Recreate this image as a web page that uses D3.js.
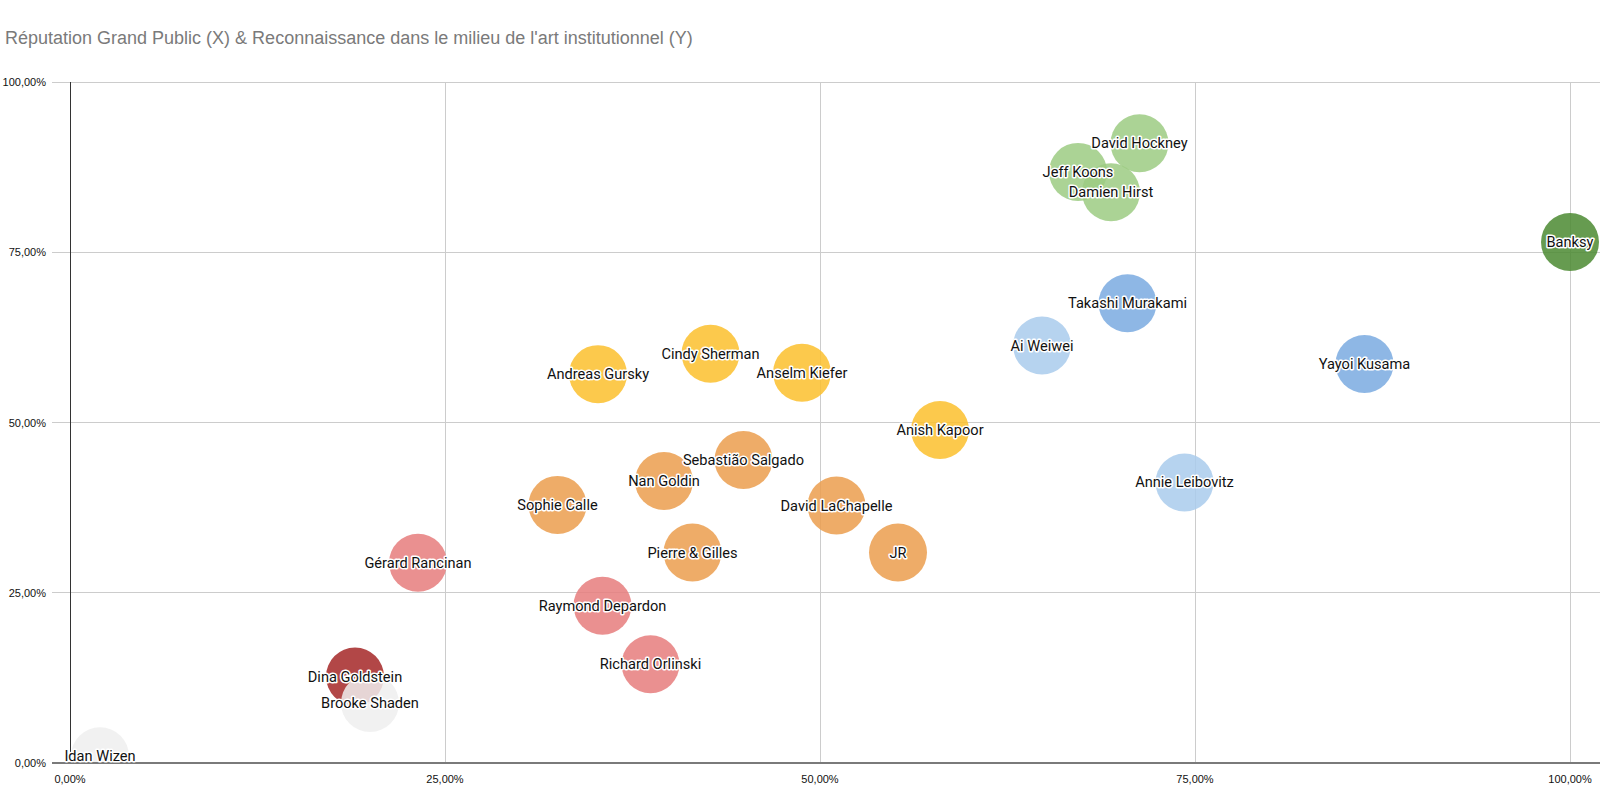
<!DOCTYPE html>
<html><head><meta charset="utf-8">
<script src="https://cdn.jsdelivr.net/npm/d3@7"></script>
<style>
body{margin:0;background:#fff;}
svg{display:block;}
</style></head>
<body>
<svg id="chart" width="1600" height="791"></svg>
<script>
const title = "Réputation Grand Public (X) & Reconnaissance dans le milieu de l'art institutionnel (Y)";
const artists = ["Idan Wizen","Dina Goldstein","Brooke Shaden","Gérard Rancinan","Raymond Depardon","Richard Orlinski","Sophie Calle","Nan Goldin","Sebastião Salgado","Pierre & Gilles","David LaChapelle","JR","Andreas Gursky","Cindy Sherman","Anselm Kiefer","Anish Kapoor","Ai Weiwei","Annie Leibovitz","Takashi Murakami","Yayoi Kusama","Jeff Koons","David Hockney","Damien Hirst","Banksy"];
const xValues = [0.02,0.19,0.20,0.232,0.355,0.387,0.325,0.396,0.449,0.415,0.511,0.552,0.352,0.427,0.488,0.580,0.648,0.743,0.705,0.863,0.672,0.713,0.694,1.00];
const yValues = [0.01,0.127,0.088,0.294,0.231,0.145,0.379,0.414,0.445,0.309,0.378,0.309,0.571,0.601,0.573,0.489,0.613,0.412,0.675,0.586,0.868,0.910,0.838,0.765];
const groups = ["grey","darkred","grey","red","red","red","orange","orange","orange","orange","orange","orange","yellow","yellow","yellow","yellow","lightblue","lightblue","blue","blue","lightgreen","lightgreen","lightgreen","darkgreen"];
const groupNames = ["grey","darkred","red","orange","yellow","lightblue","blue","lightgreen","darkgreen"];
const groupColors = ["#eeeeee","#a52727","#e67c7c","#eb9e4e","#fbc02d","#a9cbec","#7aaae0","#9ccb82","#4b8a31"];
const xTicks = [0,0.25,0.5,0.75,1];
const yTicks = [0,0.25,0.5,0.75,1];

const svg = d3.select("#chart");
const x = d3.scaleLinear().domain([0,1]).range([70,1570]);
const y = d3.scaleLinear().domain([0,1]).range([763,82]);
const color = d3.scaleOrdinal().domain(groupNames).range(groupColors);
const fmt = v => d3.format(".2f")(v*100).replace(".", ",") + "%";

svg.append("defs").append("clipPath").attr("id","plotclip")
  .append("rect").attr("x",x(0)).attr("y",0).attr("width",1600-x(0)).attr("height",y(0));

svg.append("text").attr("x",5).attr("y",44)
  .attr("font-family","Liberation Sans, Arial, sans-serif").attr("font-size",18)
  .attr("fill","#7a7a7a").text(title);

// horizontal grid
svg.append("g").selectAll("line").data(yTicks.filter(d=>d>0)).join("line")
  .attr("x1",52).attr("x2",1600).attr("y1",d=>y(d)).attr("y2",d=>y(d))
  .attr("stroke","#cccccc").attr("stroke-width",1).attr("shape-rendering","crispEdges");
// vertical grid
svg.append("g").selectAll("line").data(xTicks.filter(d=>d>0)).join("line")
  .attr("x1",d=>x(d)).attr("x2",d=>x(d)).attr("y1",y(1)).attr("y2",y(0))
  .attr("stroke","#cccccc").attr("stroke-width",1).attr("shape-rendering","crispEdges");

// y axis labels
svg.append("g").selectAll("text").data(yTicks).join("text")
  .attr("x",46).attr("y",d=>y(d)+4).attr("text-anchor","end")
  .attr("font-family","Liberation Sans, Arial, sans-serif").attr("font-size",11)
  .attr("fill","#111").text(fmt);
// x axis labels
svg.append("g").selectAll("text").data(xTicks).join("text")
  .attr("x",d=>x(d)).attr("y",y(0)+20).attr("text-anchor","middle")
  .attr("font-family","Liberation Sans, Arial, sans-serif").attr("font-size",11)
  .attr("fill","#111").text(fmt);

// y axis line
svg.append("line").attr("x1",x(0)).attr("x2",x(0)).attr("y1",y(1)).attr("y2",y(0))
  .attr("stroke","#333").attr("stroke-width",1).attr("shape-rendering","crispEdges");

const data = artists.map((n,i)=>({name:n,x:xValues[i],y:yValues[i],g:groups[i]}));

svg.append("g").attr("clip-path","url(#plotclip)").selectAll("circle").data(data).join("circle")
  .attr("cx",d=>x(d.x)).attr("cy",d=>y(d.y)).attr("r",29)
  .attr("fill",d=>color(d.g)).attr("fill-opacity",0.85);

// x axis baseline
svg.append("line").attr("x1",52).attr("x2",1600).attr("y1",y(0)).attr("y2",y(0))
  .attr("stroke","#7a7a7a").attr("stroke-width",2);

const lbl = svg.append("g").selectAll("g").data(data).join("g");
lbl.append("text").attr("x",d=>x(d.x)).attr("y",d=>y(d.y)+5).attr("text-anchor","middle")
  .attr("font-family","Roboto, sans-serif").attr("font-size",14.6)
  .attr("stroke","#fff").attr("stroke-width",3).attr("stroke-linejoin","round")
  .attr("fill","none").text(d=>d.name);
lbl.append("text").attr("x",d=>x(d.x)).attr("y",d=>y(d.y)+5).attr("text-anchor","middle")
  .attr("font-family","Roboto, sans-serif").attr("font-size",14.6)
  .attr("fill","#111").text(d=>d.name);
</script>
</body></html>
